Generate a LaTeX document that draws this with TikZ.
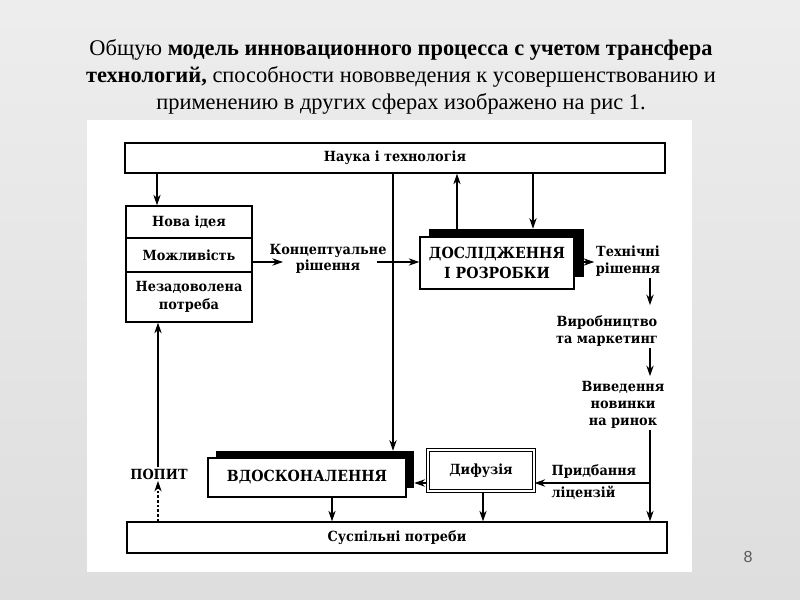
\documentclass[tikz,border=0pt]{standalone}
\usepackage{fontspec}
\setmainfont{Liberation Serif}
\newfontfamily\dfont[FakeStretch=0.92]{DejaVu Serif}
\newfontfamily\pnum{Liberation Sans}
\usetikzlibrary{arrows.meta}
\begin{document}
\begin{tikzpicture}[x=0.75pt,y=-0.75pt,
  rect/.style n args={4}{minimum width={(#3-#1)*0.75pt}, minimum height={(#4-#2)*0.75pt},
    at={({(#1+#3)/2},{(#2+#4)/2})}},
  box/.style={draw, line width=1pt, inner sep=0pt, align=center, fill=white,
    font=\dfont\bfseries\fontsize{10.5}{13}\selectfont},
  bigbox/.style={box, font=\dfont\bfseries\fontsize{11.5}{15}\selectfont},
  shadowbox/.style={fill=black, draw=none, inner sep=0pt},
  txt/.style={inner sep=1pt, align=center, font=\dfont\bfseries\fontsize{10.5}{12.5}\selectfont},
  arr/.style={-{Stealth[length=8pt,width=5.5pt]}, line width=0.9pt}
]
\useasboundingbox (0,0) rectangle (800,600);
\shade[top color=black!7, bottom color=black!13] (0,0) rectangle (800,600);
\fill[white] (87,120) rectangle (692,572);

% title
\node[font=\fontsize{16.8}{20.25}\selectfont, align=center, inner sep=0] (title) at (401,77)
  {Общую \textbf{модель инновационного процесса с учетом трансфера}\\
   \textbf{технологий,} способности нововведения к усовершенствованию и\\
   применению в других сферах изображено на рис 1.};
\node[font=\pnum\fontsize{12}{14}\selectfont, text=black!65] (pg) at (748,557) {8};

% boxes
\node[box, rect={125}{143}{665}{173}] (top) {Наука і технологія};
\node[box, rect={126}{206}{252}{238}] (nid) {Нова ідея};
\node[box, rect={126}{238}{252}{272}] (mozh) {Можливість};
\node[box, rect={126}{272}{252}{322}] (nez) {Незадоволена\\потреба};

\node[shadowbox, rect={429}{229}{584}{277}] (rdsh) {};
\node[bigbox, rect={420}{237}{574}{289}] (rd) {ДОСЛІДЖЕННЯ\\І РОЗРОБКИ};

\node[shadowbox, rect={216}{451}{414}{488}] (vdsh) {};
\node[bigbox, rect={208}{458}{406}{497}] (vd) {ВДОСКОНАЛЕННЯ};

\node[box, rect={428}{450}{534}{491}, double, double distance=1.6pt, line width=0.8pt] (dif) {Дифузія};

\node[box, rect={127}{522}{667}{553}] (susp) {Суспільні потреби};

% labels
\node[txt] (konc) at (328,259) {Концептуальне\\рішення};
\coordinate (kin) at (283,262);
\coordinate (kout) at (377,262);
\node[txt] (tech) at (628,261) {Технічні\\рішення};
\node[txt] (vyr) at (607,331) {Виробництво\\та маркетинг};
\node[txt] (vyv) at (623,405) {Виведення\\новинки\\на ринок};
\node[txt, anchor=west] (prid) at (550,472) {Придбання};
\node[txt, anchor=west] (lic) at (550,493) {ліцензій};
\node[txt] (popyt) at (159,474) {ПОПИТ};
\coordinate (br) at (650,483);

% connectors
\draw[arr] (top.south -| 157,0) -- (nid.north -| 157,0);
\draw[arr] (mozh.east |- kin) -- (kin);
\draw[arr] (kout) -- (rd.west |- kout);
\draw[arr] (top.south -| 393,0) -- (vdsh.north -| 393,0);
\draw[arr] (rdsh.north -| 457,0) -- (top.south -| 457,0);
\draw[arr] (top.south -| 533,0) -- (rdsh.north -| 533,0);
\draw[arr] (rdsh.east |- 0,262) -- (tech.west |- 0,262);
\draw[arr] (tech.south -| 650,0) -- ([yshift=9*0.75pt]vyr.north -| 650,0);
\draw[arr] (vyr.south -| 650,0) -- ([yshift=4*0.75pt]vyv.north -| 650,0);
\draw[arr] (vyv.south -| 650,0) -- (susp.north -| 650,0);
\draw[arr] (br) -- (dif.east |- br);
\draw[arr] (dif.west |- br) -- (vdsh.east |- br);
\draw[arr] (vd.south -| 332,0) -- (susp.north -| 332,0);
\draw[arr] (dif.south -| 483,0) -- (susp.north -| 483,0);
\draw[arr, dash pattern=on 2pt off 1.5pt] (susp.north -| 158,0) -- (popyt.south -| 158,0);
\draw[arr] (popyt.north -| 158,0) -- (nez.south -| 158,0);
\end{tikzpicture}
\end{document}
